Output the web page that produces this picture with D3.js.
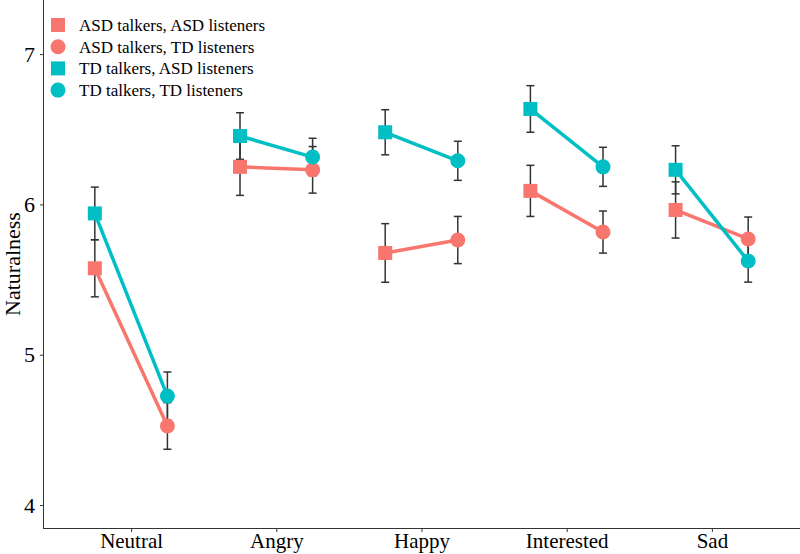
<!DOCTYPE html>
<html>
<head>
<meta charset="utf-8">
<script src="https://cdn.jsdelivr.net/npm/d3@7"></script>
<style>
  body { margin: 0; background: #fff; }
  svg { display: block; }
  text { font-family: "Liberation Serif", "Times New Roman", serif; }
</style>
</head>
<body>
<svg id="chart" width="800" height="554"></svg>
<script>
const categories = ["Neutral", "Angry", "Happy", "Interested", "Sad"];
const yTicks = [4, 5, 6, 7];

// ASD talkers
const asdTalkersAsdListeners = [5.575, 6.25, 5.677, 6.09, 5.963];
const asdTalkersAsdListenersSE = [0.19, 0.19, 0.195, 0.17, 0.187];
const asdTalkersTdListeners = [4.526, 6.23, 5.763, 5.816, 5.77];
const asdTalkersTdListenersSE = [0.155, 0.155, 0.157, 0.14, 0.146];
// TD talkers
const tdTalkersAsdListeners = [5.94, 6.455, 6.48, 6.635, 6.23];
const tdTalkersAsdListenersSE = [0.175, 0.155, 0.15, 0.155, 0.16];
const tdTalkersTdListeners = [4.725, 6.315, 6.29, 6.25, 5.623];
const tdTalkersTdListenersSE = [0.16, 0.125, 0.13, 0.13, 0.14];

const legendLabels = ["ASD talkers, ASD listeners", "ASD talkers, TD listeners",
                      "TD talkers, ASD listeners", "TD talkers, TD listeners"];

const RED = "#F8766D", TEAL = "#00BFC4", DARK = "#333333";

const groups = [
  { color: RED, sq: asdTalkersAsdListeners, sqSE: asdTalkersAsdListenersSE,
    ci: asdTalkersTdListeners, ciSE: asdTalkersTdListenersSE },
  { color: TEAL, sq: tdTalkersAsdListeners, sqSE: tdTalkersAsdListenersSE,
    ci: tdTalkersTdListeners, ciSE: tdTalkersTdListenersSE }
];

const svg = d3.select("#chart");
const mLeft = 44, mRight = 799, mTop = 0, mBottom = 528;

const x = d3.scalePoint().domain(categories).range([mLeft, mRight]).padding(0.6);
const dodge = x.step() * 0.25;
const y = d3.scaleLinear().domain([3.847, 7.36]).range([mBottom, mTop]);

// axes
const xAxis = svg.append("g").attr("transform", `translate(0,${mBottom})`)
  .call(d3.axisBottom(x).tickSize(4).tickPadding(4));
xAxis.select(".domain").attr("d", `M${mLeft},0.5H${mRight + 1}`).attr("stroke", DARK);
xAxis.selectAll(".tick line").attr("stroke", DARK);
xAxis.selectAll(".tick text").attr("font-size", 21).attr("fill", "#000")
  .attr("font-family", "Liberation Serif").attr("y", 20).attr("dy", 0);

const yAxis = svg.append("g").attr("transform", `translate(${mLeft},0)`)
  .call(d3.axisLeft(y).tickValues(yTicks).tickFormat(d3.format("d")).tickSize(4).tickPadding(5));
yAxis.select(".domain").attr("d", `M-0.5,${mBottom + 1}V0`).attr("stroke", DARK);
yAxis.selectAll(".tick line").attr("stroke", DARK);
yAxis.selectAll(".tick text").attr("font-size", 22).attr("fill", "#000")
  .attr("font-family", "Liberation Serif");

svg.append("text").attr("transform", `translate(20,${(mTop + mBottom) / 2}) rotate(-90)`)
  .attr("text-anchor", "middle").attr("font-size", 22).attr("fill", "#000")
  .text("Naturalness");

const plot = svg.append("g");

// error bars
groups.forEach(g => {
  categories.forEach((c, i) => {
    [[x(c) - dodge, g.sq[i], g.sqSE[i]], [x(c) + dodge, g.ci[i], g.ciSE[i]]].forEach(([px, m, se]) => {
      const eb = plot.append("g").attr("stroke", DARK).attr("stroke-width", 1.5).attr("fill", "none");
      eb.append("line").attr("x1", px).attr("x2", px).attr("y1", y(m - se)).attr("y2", y(m + se));
      eb.append("line").attr("x1", px - 4).attr("x2", px + 4).attr("y1", y(m - se)).attr("y2", y(m - se));
      eb.append("line").attr("x1", px - 4).attr("x2", px + 4).attr("y1", y(m + se)).attr("y2", y(m + se));
    });
  });
});

// lines
groups.forEach(g => {
  categories.forEach((c, i) => {
    plot.append("line")
      .attr("x1", x(c) - dodge).attr("y1", y(g.sq[i]))
      .attr("x2", x(c) + dodge).attr("y2", y(g.ci[i]))
      .attr("stroke", g.color).attr("stroke-width", 3.5);
  });
});

// points
const S = 14;
groups.forEach(g => {
  categories.forEach((c, i) => {
    plot.append("rect").attr("x", x(c) - dodge - S / 2).attr("y", y(g.sq[i]) - S / 2)
      .attr("width", S).attr("height", S).attr("fill", g.color);
    plot.append("circle").attr("cx", x(c) + dodge).attr("cy", y(g.ci[i]))
      .attr("r", 7.5).attr("fill", g.color);
  });
});

// legend
const legend = svg.append("g");
const legendColors = [RED, RED, TEAL, TEAL];
const legendShapes = ["square", "circle", "square", "circle"];
legendLabels.forEach((lab, i) => {
  const cy = 25 + i * 21.7;
  if (legendShapes[i] === "square") {
    legend.append("rect").attr("x", 58 - 7).attr("y", cy - 7).attr("width", 14).attr("height", 14)
      .attr("fill", legendColors[i]);
  } else {
    legend.append("circle").attr("cx", 58).attr("cy", cy).attr("r", 7.5).attr("fill", legendColors[i]);
  }
  legend.append("text").attr("x", 79).attr("y", cy).attr("dy", "0.35em")
    .attr("font-size", 17).attr("fill", "#000").text(lab);
});
</script>
</body>
</html>
